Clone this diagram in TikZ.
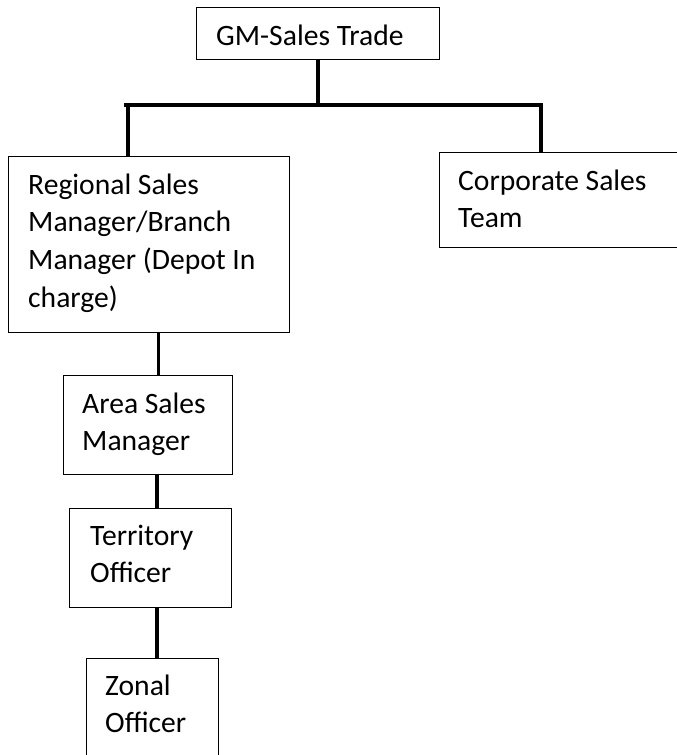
\documentclass[tikz,border=0pt]{standalone}
\usepackage{fontspec}
\setmainfont{Carlito}
\begin{document}
\begin{tikzpicture}[x=1pt,y=-1pt,
  box/.style={draw=black,line width=0.9pt,fill=white,inner sep=0pt,anchor=north west,rectangle},
  lbl/.style={inner sep=0pt,anchor=base west,font=\fontsize{29.6}{37.7}\selectfont},
  conn/.style={draw=black,line width=3.6pt}]
\clip (0,0) rectangle (677,755);
\fill[white] (0,0) rectangle (677,755);
% boxes
\node[box,minimum width=243pt,minimum height=52pt] (gm) at (196,7) {};
\node[box,minimum width=281pt,minimum height=176pt] (rsm) at (8,156) {};
\node[box,minimum width=290pt,minimum height=95pt] (corp) at (439,152) {};
\node[box,minimum width=169pt,minimum height=99pt] (asm) at (63,375) {};
\node[box,minimum width=162pt,minimum height=99pt] (ter) at (69,508) {};
\node[box,minimum width=132pt,minimum height=150pt] (zon) at (86,658) {};
% texts
\node[lbl] (gmt) at (216,45) {GM-Sales Trade};
\node[lbl] (rsmt) at (28,194) {\begin{tabular}[t]{@{}l@{}}Regional Sales\\Manager/Branch\\Manager (Depot In\\charge)\end{tabular}};
\node[lbl] (corpt) at (458,190) {\begin{tabular}[t]{@{}l@{}}Corporate Sales\\Team\end{tabular}};
\node[lbl] (asmt) at (82,413) {\begin{tabular}[t]{@{}l@{}}Area Sales\\Manager\end{tabular}};
\node[lbl] (tert) at (90,545) {\begin{tabular}[t]{@{}l@{}}Territory\\Officer\end{tabular}};
\node[lbl] (zont) at (105,695) {\begin{tabular}[t]{@{}l@{}}Zonal\\Officer\end{tabular}};
% connectors
\coordinate (barL) at (124,105);
\coordinate (barR) at (543,105);
\coordinate (j0) at (318,105);
\coordinate (j1) at (128,105);
\coordinate (j2) at (541,105);
\draw[conn] (barL) -- (barR);
\draw[conn] (j0 |- gm.south) -- (j0);
\draw[conn] (j1) -- (j1 |- rsm.north);
\draw[conn] (j2) -- (j2 |- corp.north);
\coordinate (k1) at (158.5,0);
\coordinate (k2) at (157,0);
\draw[conn] (k1 |- rsm.south) -- (k1 |- asm.north);
\draw[conn] (k2 |- asm.south) -- (k2 |- ter.north);
\draw[conn] (k2 |- ter.south) -- (k2 |- zon.north);
\end{tikzpicture}
\end{document}
